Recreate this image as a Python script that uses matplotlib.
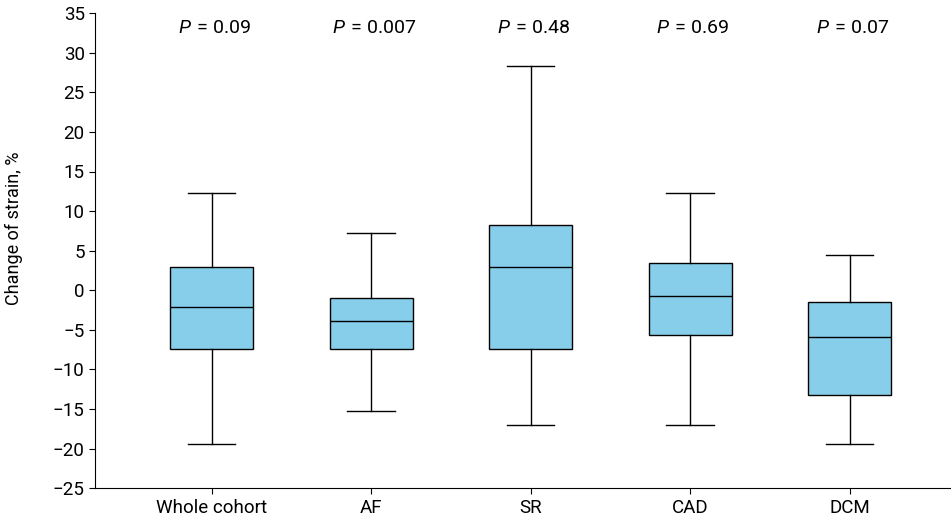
import matplotlib
matplotlib.use("Agg")
import matplotlib.pyplot as plt

# values
groups = ["Whole cohort", "AF", "SR", "CAD", "DCM"]
whislo = [-19.4, -15.3, -17.0, -17.0, -19.4]
q1 = [-7.4, -7.4, -7.4, -5.7, -13.2]
med = [-2.1, -3.9, 2.9, -0.7, -5.9]
q3 = [2.9, -1.0, 8.3, 3.4, -1.5]
whishi = [12.3, 7.2, 28.3, 12.3, 4.4]
pvals = ["0.09", "0.007", "0.48", "0.69", "0.07"]

plt.rcParams['font.family'] = ['Roboto', 'DejaVu Sans']
plt.rcParams['mathtext.fontset'] = 'custom'
plt.rcParams['mathtext.it'] = 'Roboto:italic'
plt.rcParams['mathtext.rm'] = 'Roboto'


def main():
    stats = []
    for i in range(len(groups)):
        stats.append({"label": groups[i], "whislo": whislo[i], "q1": q1[i],
                      "med": med[i], "q3": q3[i], "whishi": whishi[i]})

    fig, ax = plt.subplots(figsize=(9.51, 5.25), dpi=100)
    fig.subplots_adjust(left=0.1, right=0.999, top=0.975, bottom=0.07)
    pos = list(range(1, len(groups) + 1))
    ax.bxp(stats, positions=pos, widths=0.52, showfliers=False, patch_artist=True,
           boxprops=dict(facecolor="#87CEEB", edgecolor="black", linewidth=1.0),
           medianprops=dict(color="black", linewidth=1.0),
           whiskerprops=dict(color="black", linewidth=1.0),
           capprops=dict(color="black", linewidth=1.0),
           capwidths=0.3)

    for i, p in enumerate(pvals):
        ax.text(pos[i] + 0.02, 33.1, r"$P\,=\,$" + p, ha="center", va="center", fontsize=14)

    ax.set_ylim(-25, 35)
    ax.set_yticks(range(-25, 40, 5))
    ax.set_yticklabels([str(v).replace("-", "\u2212") for v in range(-25, 40, 5)])
    ax.set_xlim(0.27, 5.63)
    ax.set_ylabel("Change of strain, %", fontsize=13)
    ax.yaxis.set_label_coords(-0.084, 0.547)
    ax.spines["top"].set_visible(False)
    ax.spines["right"].set_visible(False)
    ax.tick_params(axis="both", labelsize=13.5, length=4)
    plt.savefig("out.png", dpi=100)


if __name__ == "__main__":
    main()
